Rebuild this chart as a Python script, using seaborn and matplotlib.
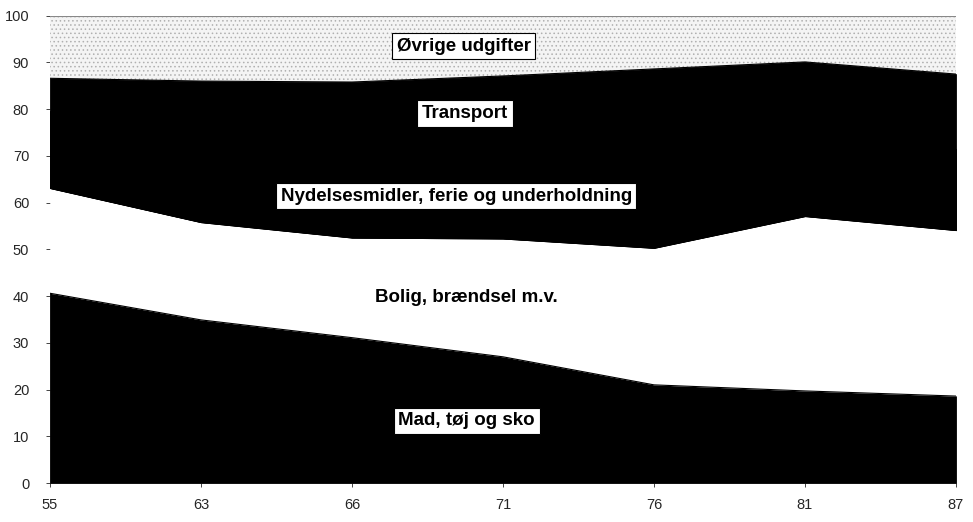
"""
    Forbrugets fordeling 1955-87 (stacked area, seaborn)
"""

import numpy as np
import pandas as pd
import seaborn as sns
import matplotlib
matplotlib.use('Agg')
import matplotlib.pyplot as plt

# years on the x axis (evenly spaced categories)
years = ['55', '63', '66', '71', '76', '81', '87']

# shares in percent (bottom to top)
mad = [40.6, 34.9, 31.1, 27.0, 21.0, 19.7, 18.6]
bolig = [22.5, 20.9, 21.4, 25.3, 29.3, 37.4, 35.5]
nydelse = [16.5, 19.2, 21.3, 21.8, 24.3, 18.0, 17.4]
transport = [7.0, 11.0, 12.0, 13.0, 14.0, 15.0, 16.0]
oevrige = [13.4, 14.0, 14.2, 12.9, 11.4, 9.9, 12.5]

layer_names = ['Mad, tøj og sko', 'Bolig, brændsel m.v.',
               'Nydelsesmidler, ferie og underholdning', 'Transport',
               'Øvrige udgifter']

sns.set_style('white')
plt.rcParams['font.family'] = ['Liberation Sans', 'DejaVu Sans']
plt.rcParams['hatch.linewidth'] = 0.6

df = pd.DataFrame({'year': years, 'mad': mad, 'bolig': bolig,
                   'nydelse': nydelse, 'transport': transport,
                   'oevrige': oevrige})
df['x'] = np.arange(len(df))
layers = ['mad', 'bolig', 'nydelse', 'transport', 'oevrige']
tops = df[layers].cumsum(axis=1)

fig = plt.figure(figsize=(9.73, 5.22), dpi=100)
ax = fig.add_axes([0.0514, 0.0747, 0.9311, 0.8953])

styles = {
    'mad': dict(facecolor='black', edgecolor='black', linewidth=0.6),
    'bolig': dict(facecolor='white', linewidth=0),
    'nydelse': dict(facecolor='black', edgecolor='black', linewidth=0.6),
    'transport': dict(facecolor='black', edgecolor='black', linewidth=0.6),
    'oevrige': dict(facecolor='#f4f4f4', edgecolor='#b0b0b0', hatch='....', linewidth=0),
}

bottom = np.zeros(len(df))
for name in layers:
    top = tops[name].values
    # transport sits on a black layer of the same colour: let it overlap
    # so no seam shows between the two
    lo = tops['bolig'].values if name == 'transport' else bottom
    ax.fill_between(df['x'], lo, top, **styles[name])
    bottom = top

# boundary lines through seaborn
for name in ['mad', 'bolig', 'transport']:
    sns.lineplot(x=df['x'], y=tops[name], ax=ax, color='black', linewidth=0.8)
sns.lineplot(x=df['x'], y=tops['oevrige'], ax=ax, color='#888888', linewidth=0.8)

# layer labels
box = dict(boxstyle='square,pad=0.25', facecolor='white', edgecolor='black', linewidth=0.8)
lab = dict(ha='center', va='center', fontsize=13.5, fontweight='bold', color='black')
ax.text(2.74, 93.5, layer_names[4], bbox=box, **lab)
ax.text(2.75, 79.1, layer_names[3], bbox=box, **lab)
ax.text(2.69, 61.4, layer_names[2], bbox=box, **lab)
ax.text(2.76, 39.6, layer_names[1], **lab)
ax.text(2.76, 13.3, layer_names[0], bbox=box, **lab)

ax.set_xlim(0, len(df) - 1)
ax.set_ylim(0, 100)
ax.set_xticks(df['x'])
ax.set_xticklabels(years)
ax.set_yticks(range(0, 101, 10))
ax.set_xlabel('')
ax.set_ylabel('')
ax.tick_params(axis='y', length=3, width=0.6, pad=12, labelsize=10.5, left=True)
ax.tick_params(axis='x', length=3, width=0.6, pad=8, labelsize=10.5, bottom=True)
for s in ax.spines.values():
    s.set_visible(False)

fig.savefig('out.png', dpi=100)
